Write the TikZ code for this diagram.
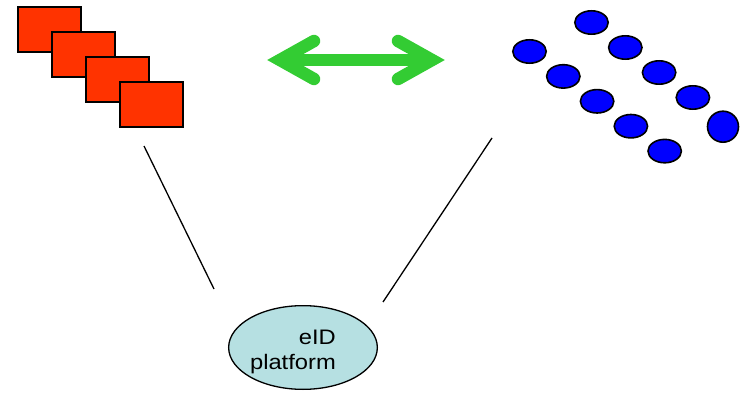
\documentclass[tikz,border=0pt]{standalone}
\usepackage{fontspec}
\setmainfont{Liberation Sans}
\usetikzlibrary{shapes.geometric}

\definecolor{cardred}{HTML}{FF3300}
\definecolor{tokenblue}{HTML}{0000FF}
\definecolor{swapgreen}{HTML}{33CC33}
\definecolor{platformfill}{HTML}{B6E0E2}

\tikzset{
	card/.style={draw=black, line width=2.2pt, fill=cardred, minimum width=63pt, minimum height=45pt, inner sep=0pt},
	token/.style={ellipse, draw=black, line width=1.6pt, fill=tokenblue, minimum width=33.4pt, minimum height=23.4pt, inner sep=0pt},
	swap/.style={draw=swapgreen, line width=12.5pt, line cap=round, line join=miter},
	link/.style={draw=black, line width=1.3pt},
	label/.style={font=\fontsize{21}{25}\selectfont, inner sep=0pt}
}

\begin{document}
\begin{tikzpicture}[x=1pt,y=-1pt]
	
	\useasboundingbox (0,0) rectangle (742,393);
	
	% stack of cards
	\foreach \i in {0,...,3}
		\node[card] (card\i) at (49.5+34*\i,29.5+25*\i) {};
	
	% two rows of tokens
	\foreach \i in {0,...,3}
		\node[token] (top\i) at (591.5+33.8*\i,22.5+25*\i) {};
	\node[token, minimum width=31pt, minimum height=31pt] (top4) at (723,126.7) {};
	\foreach \i in {0,...,4}
		\node[token] (low\i) at (529.5+33.8*\i,51.5+24.9*\i) {};
	
	% double arrow between them
	\draw[swap, line cap=butt] (280,60) -- (432,60);
	\draw[swap] (314,41) -- (280,60) -- (314,79);
	\draw[swap] (398,41) -- (432,60) -- (398,79);
	
	% platform
	\node[ellipse, draw=black, line width=1.3pt, fill=platformfill, minimum width=148.7pt, minimum height=83.7pt, inner sep=0pt] (eid) at (303,347.5) {};
	\node[label, anchor=base east] (eidtop) at (336,344) {\scalebox{1.13}[1]{eID}};
	\node[label, anchor=base east] (eidbot) at (336,369) {\scalebox{1.13}[1]{platform}};
	
	% connections down to the platform
	\coordinate (cardfoot) at (144,146);
	\coordinate (eidleft) at (214,289);
	\coordinate (tokenfoot) at (492,138);
	\coordinate (eidright) at (383,302);
	\draw[link] (cardfoot) -- (eidleft);
	\draw[link] (tokenfoot) -- (eidright);
	
\end{tikzpicture}
\end{document}
